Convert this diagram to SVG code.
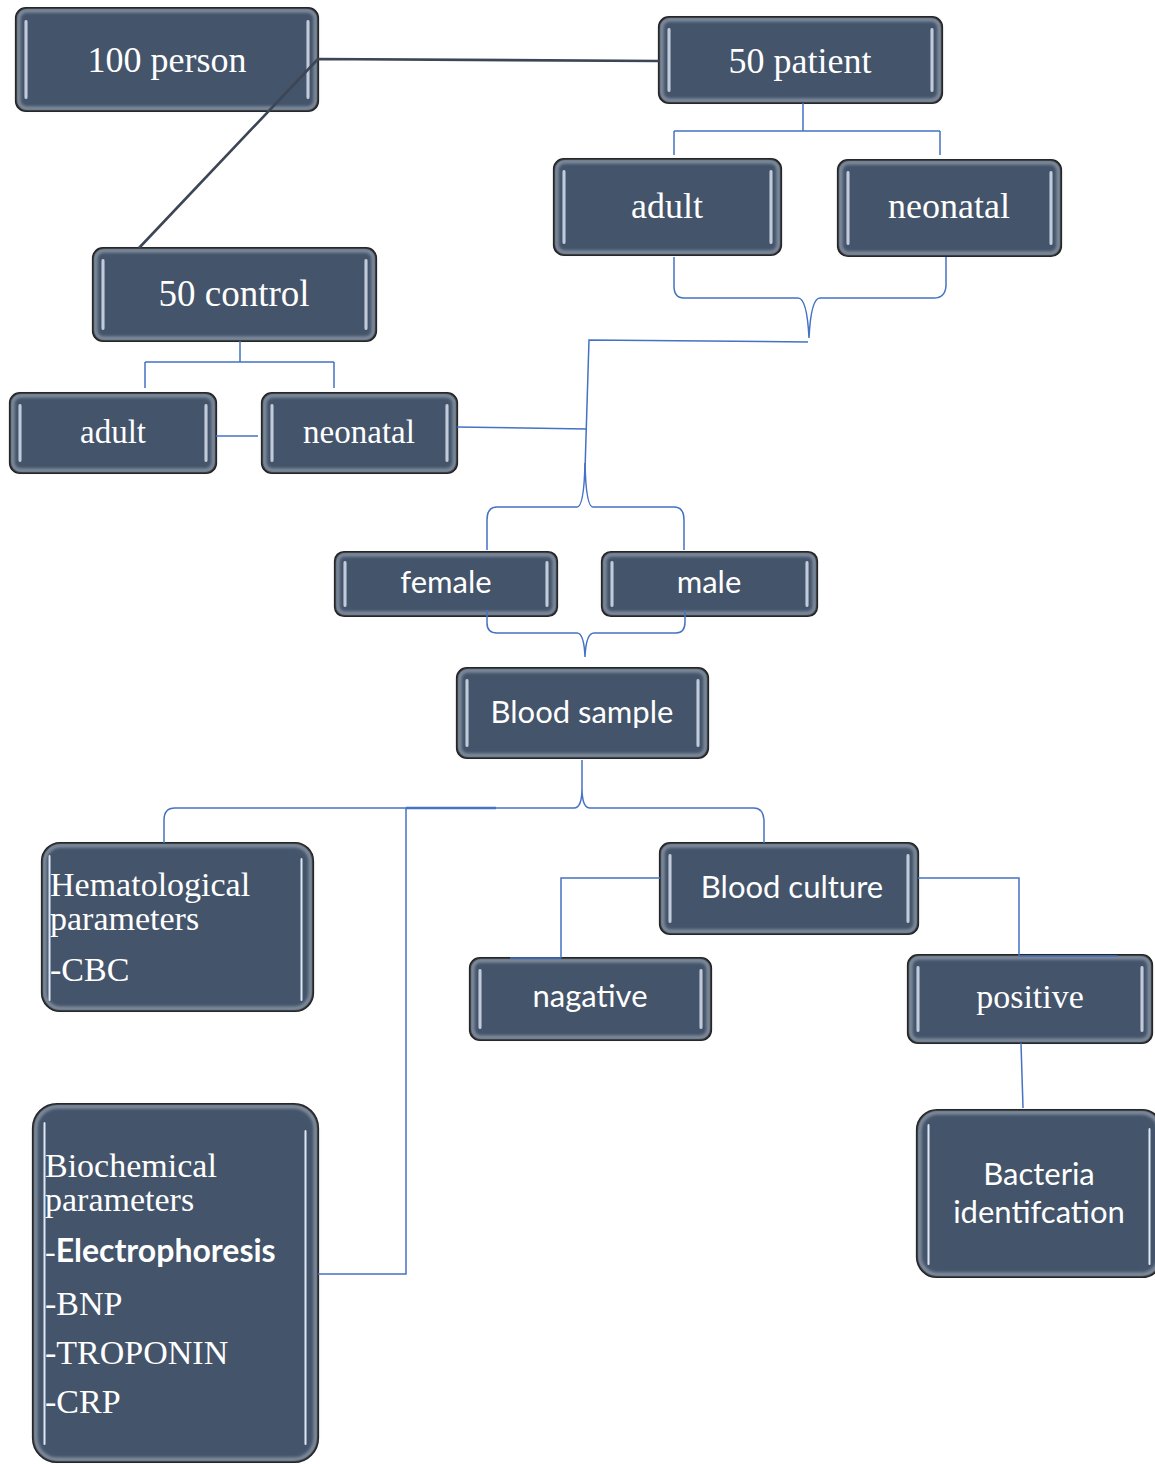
<svg xmlns="http://www.w3.org/2000/svg" width="1155" height="1464" viewBox="0 0 1155 1464">
<defs>
<filter id="blur" x="-5%" y="-5%" width="110%" height="110%"><feGaussianBlur stdDeviation="1.6"/></filter>
<linearGradient id="hlg" x1="0" y1="0" x2="1" y2="0">
<stop offset="0" stop-color="#6d7b90"/>
<stop offset="0.5" stop-color="#dde6f3"/>
<stop offset="1" stop-color="#6d7b90"/>
</linearGradient>
</defs>
<style>
.b{fill:#44546a;stroke:#0d0d0d;stroke-width:2.2}
.bev{fill:none;stroke:#aeb7c4;stroke-width:4;opacity:0.6;filter:url(#blur)}
.hl{fill:url(#hlg)}
.s{font-family:"Liberation Serif","Times New Roman",serif;fill:#ffffff}
.c{font-family:Lato,"Liberation Sans",sans-serif;fill:#ffffff}
.mid{text-anchor:middle}
.con{fill:none;stroke:#4472c4;stroke-width:1.5}
.dk{fill:none;stroke:#3c4656;stroke-width:2.6}
</style>

<g id="n100">
<rect class="b" x="16" y="8" width="302" height="103" rx="10"/>
<rect class="bev" x="18.5" y="10.5" width="297" height="98" rx="8"/>
<rect class="hl" x="24" y="20" width="4" height="79" rx="2"/>
<rect class="hl" x="306" y="20" width="4" height="79" rx="2"/>
<text class="s mid" x="167" y="72" font-size="36">100 person</text>
</g>

<g id="npatient">
<rect class="b" x="659" y="17" width="283" height="86" rx="10"/>
<rect class="bev" x="661.5" y="19.5" width="278" height="81" rx="8"/>
<rect class="hl" x="667" y="28" width="4" height="64" rx="2"/>
<rect class="hl" x="930" y="28" width="4" height="64" rx="2"/>
<text class="s mid" x="800" y="73" font-size="36">50 patient</text>
</g>

<g id="npadult">
<rect class="b" x="554" y="159" width="227" height="96" rx="10"/>
<rect class="bev" x="556.5" y="161.5" width="222" height="91" rx="8"/>
<rect class="hl" x="562" y="170" width="4" height="74" rx="2"/>
<rect class="hl" x="769" y="170" width="4" height="74" rx="2"/>
<text class="s mid" x="667" y="218" font-size="36">adult</text>
</g>

<g id="npneo">
<rect class="b" x="838" y="160" width="223" height="96" rx="10"/>
<rect class="bev" x="840.5" y="162.5" width="218" height="91" rx="8"/>
<rect class="hl" x="846" y="171" width="4" height="74" rx="2"/>
<rect class="hl" x="1049" y="171" width="4" height="74" rx="2"/>
<text class="s mid" x="949" y="218" font-size="36">neonatal</text>
</g>

<g id="ncontrol">
<rect class="b" x="93" y="248" width="283" height="93" rx="10"/>
<rect class="bev" x="95.5" y="250.5" width="278" height="88" rx="8"/>
<rect class="hl" x="101" y="259" width="4" height="71" rx="2"/>
<rect class="hl" x="364" y="259" width="4" height="71" rx="2"/>
<text class="s mid" x="234" y="306" font-size="37">50 control</text>
</g>

<g id="ncadult">
<rect class="b" x="10" y="393" width="206" height="80" rx="10"/>
<rect class="bev" x="12.5" y="395.5" width="201" height="75" rx="8"/>
<rect class="hl" x="18" y="404" width="4" height="58" rx="2"/>
<rect class="hl" x="204" y="404" width="4" height="58" rx="2"/>
<text class="s mid" x="113" y="443" font-size="33">adult</text>
</g>

<g id="ncneo">
<rect class="b" x="262" y="393" width="195" height="80" rx="10"/>
<rect class="bev" x="264.5" y="395.5" width="190" height="75" rx="8"/>
<rect class="hl" x="270" y="404" width="4" height="58" rx="2"/>
<rect class="hl" x="445" y="404" width="4" height="58" rx="2"/>
<text class="s mid" x="359" y="443" font-size="33">neonatal</text>
</g>

<g id="nfemale">
<rect class="b" x="335" y="552" width="222" height="64" rx="9"/>
<rect class="bev" x="337.5" y="554.5" width="217" height="59" rx="7"/>
<rect class="hl" x="343" y="561" width="4" height="46" rx="2"/>
<rect class="hl" x="545" y="561" width="4" height="46" rx="2"/>
<text class="c mid" x="446" y="593" font-size="31">female</text>
</g>

<g id="nmale">
<rect class="b" x="602" y="552" width="215" height="64" rx="9"/>
<rect class="bev" x="604.5" y="554.5" width="210" height="59" rx="7"/>
<rect class="hl" x="610" y="561" width="4" height="46" rx="2"/>
<rect class="hl" x="805" y="561" width="4" height="46" rx="2"/>
<text class="c mid" x="709" y="593" font-size="31">male</text>
</g>

<g id="nblood">
<rect class="b" x="457" y="668" width="251" height="90" rx="10"/>
<rect class="bev" x="459.5" y="670.5" width="246" height="85" rx="8"/>
<rect class="hl" x="465" y="679" width="4" height="68" rx="2"/>
<rect class="hl" x="696" y="679" width="4" height="68" rx="2"/>
<text class="c mid" x="582" y="723" font-size="31">Blood sample</text>
</g>

<g id="nhema">
<rect class="b" x="42" y="843" width="271" height="168" rx="18"/>
<rect class="bev" x="44.5" y="845.5" width="266" height="163" rx="16"/>
<rect class="hl" x="48" y="855" width="3" height="146" rx="1.5"/>
<rect class="hl" x="300" y="858" width="3" height="143" rx="1.5"/>
<text class="s" x="50" y="896" font-size="34">Hematological</text>
<text class="s" x="50" y="930" font-size="34">parameters</text>
<text class="s" x="50" y="981" font-size="34">-CBC</text>
</g>

<g id="nculture">
<rect class="b" x="660" y="843" width="258" height="91" rx="10"/>
<rect class="bev" x="662.5" y="845.5" width="253" height="86" rx="8"/>
<rect class="hl" x="668" y="854" width="4" height="69" rx="2"/>
<rect class="hl" x="906" y="854" width="4" height="69" rx="2"/>
<text class="c mid" x="792" y="898" font-size="31">Blood culture</text>
</g>

<g id="nneg">
<rect class="b" x="470" y="958" width="241" height="82" rx="10"/>
<rect class="bev" x="472.5" y="960.5" width="236" height="77" rx="8"/>
<rect class="hl" x="478" y="969" width="4" height="60" rx="2"/>
<rect class="hl" x="699" y="969" width="4" height="60" rx="2"/>
<text class="c mid" x="590" y="1007" font-size="31">nagative</text>
</g>

<g id="npos">
<rect class="b" x="908" y="955" width="244" height="88" rx="10"/>
<rect class="bev" x="910.5" y="957.5" width="239" height="83" rx="8"/>
<rect class="hl" x="916" y="966" width="4" height="66" rx="2"/>
<rect class="hl" x="1140" y="966" width="4" height="66" rx="2"/>
<text class="s mid" x="1030" y="1008" font-size="34">positive</text>
</g>

<g id="nbact">
<rect class="b" x="917" y="1110" width="245" height="167" rx="20"/>
<rect class="bev" x="919.5" y="1112.5" width="240" height="162" rx="18"/>
<rect class="hl" x="927" y="1124" width="3" height="141" rx="1.5"/>
<rect class="hl" x="1148" y="1128" width="3" height="137" rx="1.5"/>
<text class="c mid" x="1039" y="1185" font-size="31">Bacteria</text>
<text class="c mid" x="1039" y="1223" font-size="31">identifcation</text>
</g>

<g id="nbio">
<rect class="b" x="33" y="1104" width="285" height="358" rx="24"/>
<rect class="bev" x="35.5" y="1106.5" width="280" height="353" rx="22"/>
<rect class="hl" x="43" y="1122" width="3" height="323" rx="1.5"/>
<rect class="hl" x="304" y="1130" width="3" height="315" rx="1.5"/>
<text class="s" x="45" y="1177" font-size="34">Biochemical</text>
<text class="s" x="45" y="1211" font-size="34">parameters</text>
<text x="45" y="1262" font-size="32"><tspan class="s">-</tspan><tspan class="c" font-weight="bold">Electrophoresis</tspan></text>
<text class="s" x="45" y="1315" font-size="34">-BNP</text>
<text class="s" x="45" y="1364" font-size="34">-TROPONIN</text>
<text class="s" x="45" y="1413" font-size="34">-CRP</text>
</g>

<g id="connectors">
<path class="dk" d="M318,59 L659,61 M318,59 L139,248"/>
<path class="con" d="M803,103 V131 M674,131 H940 M674,131 V155 M940,131 V155"/>
<path class="con" d="M674,257 V286 Q674,298 684,298 H798 Q807,298 809,338 Q811,298 820,298 H934 Q945,298 946,286 V257"/>
<path class="con" d="M808,342 L589,340 L585,470"/>
<path class="con" d="M457,427 L587,429"/>
<path class="con" d="M487,550 V520 Q487,507 497,507 H577 Q584,507 585,463 Q586,507 593,507 H674 Q684,507 684,520 V550"/>
<path class="con" d="M487,610 V623 Q487,633 497,633 H577 Q584,633 585,657 Q586,633 594,633 H676 Q685,633 685,622 V610"/>
<path class="con" d="M240,341 V362 M145,362 H334 M145,362 V388 M334,362 V388"/>
<path class="con" d="M216,436 H258"/>
<path class="con" d="M582,760 V788 Q582,808 574,808 H175 Q164,808 164,820 V843 M582,788 Q582,808 590,808 H754 Q763,808 764,820 V843"/>
<path class="con" d="M406,808 V1274 H318"/>
<path class="con" style="stroke-width:2.4" d="M406,808 H496"/>
<path class="con" d="M660,878 H561 V958 M510,958 H561"/>
<path class="con" d="M918,878 H1019 V956 H1117"/>
<path class="con" d="M1021,1043 L1023,1108"/>
</g>
</svg>
